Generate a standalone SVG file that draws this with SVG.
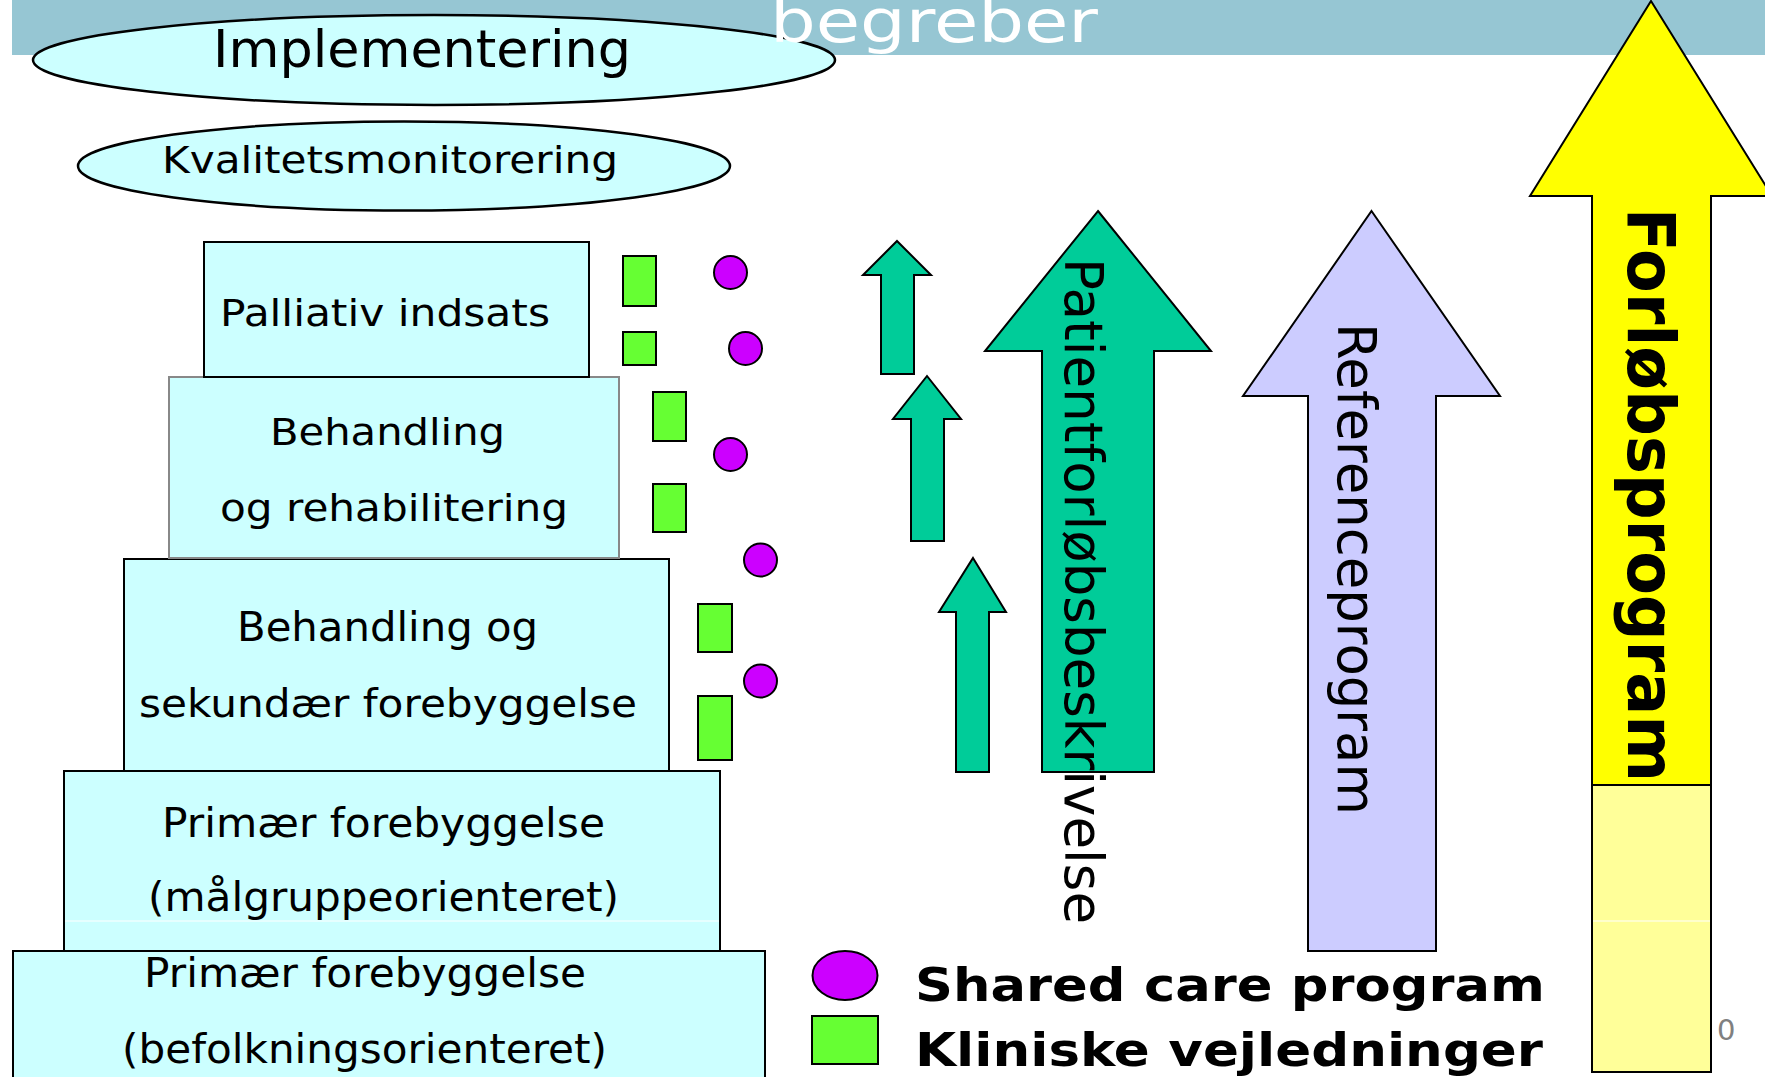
<svg xmlns="http://www.w3.org/2000/svg" width="1765" height="1077" viewBox="0 0 1765 1077">
<style>
.t{font-family:"DejaVu Sans",Verdana,"Liberation Sans",sans-serif;fill:#000}
.b{font-weight:bold}
.box{fill:#CCFFFF;stroke:#000;stroke-width:2}
.ell{fill:#CCFFFF;stroke:#000;stroke-width:2.5}
.kv{fill:#66FF33;stroke:#000;stroke-width:2}
.sc{fill:#CC00FF;stroke:#000;stroke-width:2}
.ar{fill:#00CC99;stroke:#000;stroke-width:2}
</style>
<rect width="1765" height="1077" fill="#fff"/>
<g id="header">
<rect x="12" y="0" width="1753" height="55" fill="#96C6D3"/>
</g>
<g id="implementering">
<ellipse class="ell" cx="434" cy="60" rx="401" ry="45"/>
<text class="t" x="213" y="67" font-size="52" textLength="418" lengthAdjust="spacingAndGlyphs">Implementering</text>
</g>
<g id="title">
<text class="t" x="770" y="42" font-size="58" style="fill:#fff" textLength="328" lengthAdjust="spacingAndGlyphs">begreber</text>
</g>
<g id="kvalitetsmonitorering">
<ellipse class="ell" cx="404" cy="166" rx="326" ry="44.5"/>
<text class="t" x="162" y="173" font-size="38" textLength="456" lengthAdjust="spacingAndGlyphs">Kvalitetsmonitorering</text>
</g>
<g id="primaer-befolkning">
<rect class="box" x="13" y="951" width="752" height="140"/>
<text class="t" x="144" y="987" font-size="40" textLength="442" lengthAdjust="spacingAndGlyphs">Primær forebyggelse</text>
<text class="t" x="122" y="1063" font-size="40" textLength="485" lengthAdjust="spacingAndGlyphs">(befolkningsorienteret)</text>
</g>
<g id="primaer-maalgruppe">
<rect class="box" x="64" y="771" width="656" height="180"/>
<line x1="65" y1="921" x2="719" y2="921" stroke="#fff" stroke-width="1"/>
<text class="t" x="162" y="837" font-size="40" textLength="443" lengthAdjust="spacingAndGlyphs">Primær forebyggelse</text>
<text class="t" x="148" y="911" font-size="40" textLength="471" lengthAdjust="spacingAndGlyphs">(målgruppeorienteret)</text>
</g>
<g id="sekundaer">
<rect class="box" x="124" y="559" width="545" height="212"/>
<text class="t" x="237" y="641" font-size="40" textLength="301" lengthAdjust="spacingAndGlyphs">Behandling og</text>
<text class="t" x="139" y="717" font-size="39" textLength="498" lengthAdjust="spacingAndGlyphs">sekundær forebyggelse</text>
</g>
<g id="rehabilitering">
<rect x="169" y="377" width="450" height="181" fill="#CCFFFF" stroke="#888" stroke-width="2"/>
<text class="t" x="270" y="445" font-size="38" textLength="235" lengthAdjust="spacingAndGlyphs">Behandling</text>
<text class="t" x="220" y="521" font-size="38" textLength="348" lengthAdjust="spacingAndGlyphs">og rehabilitering</text>
</g>
<g id="palliativ">
<rect class="box" x="204" y="242" width="385" height="135"/>
<text class="t" x="220" y="326" font-size="38" textLength="330" lengthAdjust="spacingAndGlyphs">Palliativ indsats</text>
</g>
<g id="kliniske-markers">
<rect class="kv" x="623" y="256" width="33" height="50"/>
<rect class="kv" x="623" y="332" width="33" height="33"/>
<rect class="kv" x="653" y="392" width="33" height="49"/>
<rect class="kv" x="653" y="484" width="33" height="48"/>
<rect class="kv" x="698" y="604" width="34" height="48"/>
<rect class="kv" x="698" y="696" width="34" height="64"/>
</g>
<g id="shared-care-markers">
<ellipse class="sc" cx="730.5" cy="272.5" rx="16.5" ry="16.5"/>
<ellipse class="sc" cx="745.5" cy="348.5" rx="16.5" ry="16.5"/>
<ellipse class="sc" cx="730.5" cy="454.5" rx="16.5" ry="16.5"/>
<ellipse class="sc" cx="760.5" cy="560" rx="16.5" ry="16.5"/>
<ellipse class="sc" cx="760.5" cy="681" rx="16.5" ry="16.5"/>
</g>
<g id="small-arrow-1">
<polygon class="ar" points="897,241 931,275 914,275 914,374 881,374 881,275 863,275"/>
</g>
<g id="small-arrow-2">
<polygon class="ar" points="927,376 961,419 944,419 944,541 911,541 911,419 893,419"/>
</g>
<g id="small-arrow-3">
<polygon class="ar" points="973,558 1006,612 989,612 989,772 956,772 956,612 939,612"/>
</g>
<g id="patientforloebsbeskrivelse">
<polygon class="ar" points="1098,211 1211,351 1154,351 1154,772 1042,772 1042,351 985,351"/>
<text class="t" transform="translate(1065,258) rotate(90)" font-size="54" textLength="666" lengthAdjust="spacingAndGlyphs">Patientforløbsbeskrivelse</text>
</g>
<g id="referenceprogram">
<polygon points="1371.5,211 1500,396 1436,396 1436,951 1308,951 1308,396 1243,396" fill="#CCCCFF" stroke="#000" stroke-width="2"/>
<text class="t" transform="translate(1338,323) rotate(90)" font-size="53" textLength="492" lengthAdjust="spacingAndGlyphs">Referenceprogram</text>
</g>
<g id="forloebsprogram">
<rect x="1592" y="785" width="119" height="287" fill="#FFFF99" stroke="#000" stroke-width="2"/>
<line x1="1593" y1="921" x2="1710" y2="921" stroke="#fff" stroke-width="1"/>
<polygon points="1651,1 1772,196 1711,196 1711,785 1592,785 1592,196 1530,196" fill="#FFFF00" stroke="#000" stroke-width="2"/>
<text class="t b" transform="translate(1628,208) rotate(90)" font-size="65" textLength="574" lengthAdjust="spacingAndGlyphs">Forløbsprogram</text>
</g>
<g id="legend">
<ellipse class="sc" cx="845" cy="975.5" rx="32.5" ry="24.5"/>
<rect class="kv" x="812" y="1016" width="66" height="48"/>
<text class="t b" x="915" y="1001" font-size="47" textLength="630" lengthAdjust="spacingAndGlyphs">Shared care program</text>
<text class="t b" x="915" y="1066" font-size="47" textLength="628" lengthAdjust="spacingAndGlyphs">Kliniske vejledninger</text>
</g>
<g id="page-number">
<text class="t" x="1717" y="1040" font-size="29" style="fill:#808080">0</text>
</g>
<g id="connectors"/>
</svg>
